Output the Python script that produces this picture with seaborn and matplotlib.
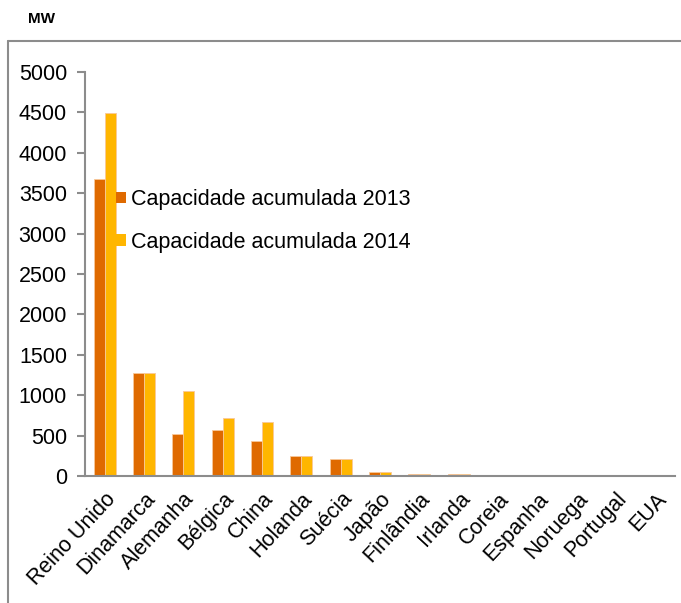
import matplotlib
matplotlib.use("Agg")
import matplotlib.pyplot as plt
import seaborn as sns
import pandas as pd
from matplotlib.lines import Line2D

categories = ["Reino Unido", "Dinamarca", "Alemanha", "Bélgica", "China", "Holanda",
              "Suécia", "Japão", "Finlândia", "Irlanda", "Coreia", "Espanha",
              "Noruega", "Portugal", "EUA"]
cap_2013 = [3681, 1271, 520, 571, 428, 247, 212, 50, 26, 25, 5, 5, 2, 2, 0]
cap_2014 = [4494, 1271, 1049, 712, 670, 247, 212, 50, 26, 25, 5, 5, 2, 2, 0]
series = ["Capacidade acumulada 2013", "Capacidade acumulada 2014"]
y_ticks = [0, 500, 1000, 1500, 2000, 2500, 3000, 3500, 4000, 4500, 5000]

df = pd.DataFrame({
    "pais": categories * 2,
    "valor": cap_2013 + cap_2014,
    "serie": [series[0]] * len(categories) + [series[1]] * len(categories),
})

sns.set_theme(style="white")
plt.rcParams["font.family"] = ["Liberation Sans", "DejaVu Sans"]
plt.rcParams["text.color"] = "black"

fig = plt.figure(figsize=(6.81, 6.03), dpi=100)
ax = fig.add_axes([85 / 681, 1 - 476 / 603, (675 - 85) / 681, (476 - 72) / 603])

palette = {series[0]: "#DF6A00", series[1]: "#FFB600"}
sns.barplot(data=df, x="pais", y="valor", hue="serie", palette=palette,
            width=0.56, ax=ax, saturation=1, edgecolor="#F8C89A", linewidth=0.6)

gray = "#8C8C8C"
fs = 15.5
ax.set_ylim(0, 5000)
ax.set_xlim(-0.5, len(categories) - 0.5)
ax.set_yticks(y_ticks)
ax.set_yticklabels([str(v) for v in y_ticks], fontsize=fs, color="black")
ax.set_xticks(range(len(categories)))
ax.set_xticklabels(categories, rotation=47, ha="right", rotation_mode="anchor",
                   fontsize=fs, color="black")
ax.set_xticks([i - 0.5 for i in range(len(categories) + 1)], minor=True)
ax.tick_params(axis="x", which="major", length=0, pad=9)
ax.tick_params(axis="x", which="minor", length=6, width=1.5, color=gray, direction="out")
ax.tick_params(axis="y", length=6, width=1.5, color=gray, direction="out", left=True, pad=7)
ax.set_xlabel("")
ax.set_ylabel("")
for s in ["top", "right"]:
    ax.spines[s].set_visible(False)
for s in ["left", "bottom"]:
    ax.spines[s].set_color(gray)
    ax.spines[s].set_linewidth(1.5)

leg = ax.legend(loc="upper left", bbox_to_anchor=(116 / 681, 1 - 189 / 603),
                bbox_transform=fig.transFigure, frameon=False, fontsize=fs,
                handlelength=0.45, handleheight=0.45, handletextpad=0.25,
                labelspacing=1.0, borderpad=0, borderaxespad=0)
for h in leg.legend_handles:
    h.set_edgecolor("none")
for t in leg.get_texts():
    t.set_color("black")

fig.text(28 / 681, 1 - 19 / 603, "MW", fontsize=11, fontweight="bold",
         ha="left", va="center", color="black")

fig.add_artist(Line2D([8 / 681, 8 / 681], [0, 1 - 41 / 603], transform=fig.transFigure,
                      color=gray, lw=1.5))
fig.add_artist(Line2D([8 / 681, 1], [1 - 41 / 603, 1 - 41 / 603], transform=fig.transFigure,
                      color=gray, lw=1.5))

fig.savefig("out.png", dpi=100)
